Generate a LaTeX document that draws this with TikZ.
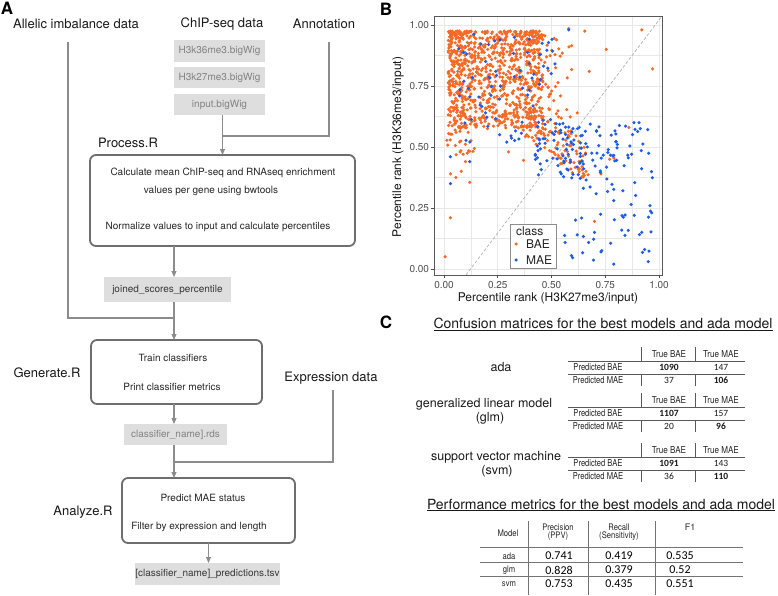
\documentclass[tikz,border=0pt]{standalone}
\usepackage{fontspec}
\setmainfont{TeX Gyre Heros}
\newfontfamily\calib{Carlito}
\usepackage{graphicx}
\usetikzlibrary{arrows.meta}
\definecolor{bae}{RGB}{245,106,38}
\definecolor{mae}{RGB}{32,92,228}
\definecolor{conncol}{RGB}{140,140,140}
\definecolor{boxcol}{RGB}{110,110,110}
\definecolor{filefill}{RGB}{222,222,222}
\definecolor{ltxt}{RGB}{130,130,130}
\definecolor{dtxt}{RGB}{55,55,55}
\definecolor{gridc}{RGB}{232,232,232}
\definecolor{tickc}{RGB}{77,77,77}
\newcommand{\fsz}[1]{\fontsize{#1}{#1}\selectfont}
\newcommand{\cnd}[2]{\scalebox{#1}[1]{#2}}
\newcommand{\conftab}[6]{%
  \node[cth] (#1h1) at (669,#2) {\cnd{0.85}{True BAE}};
  \node[cth] (#1h2) at (721,#2) {\cnd{0.85}{True MAE}};
  \node[cth] (#1r1) at (598,#2+13) {\cnd{0.8}{Predicted BAE}};
  \node[cth] (#1r2) at (598,#2+26) {\cnd{0.8}{Predicted MAE}};
  \node[cnum] (#1a) at (669,#2+13) {\bfseries #3};
  \node[cnum] (#1b) at (721,#2+13) {#4};
  \node[cnum] (#1c) at (669,#2+26) {#5};
  \node[cnum] (#1d) at (721,#2+26) {\bfseries #6};
  \draw[tline] (568,#2+7) -- (745,#2+7);
  \draw[tline] (568,#2+20) -- (745,#2+20);
  \draw[tline] (641,#2-7) -- (641,#2+7);
  \draw[tline] (695,#2-7) -- (695,#2+7);
  \draw[tline] (641,#2+20) -- (641,#2+32);
  \draw[tline] (695,#2+20) -- (695,#2+32);
}
\begin{document}
\begin{tikzpicture}[x=1pt,y=-1pt,
  every node/.style={inner sep=0pt,outer sep=0pt},
  panlab/.style={font=\fsz{17}\bfseries},
  src/.style={font=\fsz{13}, text=black!90},
  btxt/.style={font=\fsz{10}, text=black!85},
  filebox/.style={fill=filefill, font=\fsz{10}},
  procbox/.style={draw=boxcol, line width=1.8pt, rounded corners=6pt},
  conn/.style={draw=conncol, line width=1.1pt},
  arr/.style={conn, -{Triangle[width=5pt,length=6pt]}},
  ticklab/.style={font=\fsz{10}, text=tickc},
  axtitle/.style={font=\fsz{12}, text=black!90},
  cth/.style={font=\fsz{9.5}, text=black!85},
  cnum/.style={font=\calib\fsz{9.5}, text=black!90},
  mlab/.style={font=\fsz{12.5}, text=black!90},
  tline/.style={draw=black!65, line width=0.6pt},
  ptline/.style={draw=black!55, line width=0.7pt},
  phead/.style={font=\fsz{9}, text=black!85, align=center},
  pnum/.style={font=\calib\fsz{12}, text=black}
]
\useasboundingbox (0,0) rectangle (778,595);
\fill[white] (0,0) rectangle (778,595);

% ---------------- Panel A ----------------
\node[panlab] (labA) at (7,8) {A};
\node[src] (allelic) at (76,24) {Allelic imbalance data};
\node[src] (chip) at (222,24) {ChIP-seq data};
\node[src] (annot) at (324,24) {Annotation};
\node[filebox, minimum width=91pt, minimum height=22pt, text=ltxt] (f1) at (219.5,51) {H3k36me3.bigWig};
\node[filebox, minimum width=91pt, minimum height=21pt, text=ltxt] (f2) at (219.5,77.5) {H3k27me3.bigWig};
\node[filebox, minimum width=91pt, minimum height=21pt, text=ltxt] (f3) at (219.5,104.5) {input.bigWig};

\node[src] (procR) at (128,143) {Process.R};
\node[procbox, minimum width=265pt, minimum height=91pt] (proc) at (222.5,200.5) {};
\node[btxt] (p1) at (223,173) {Calculate mean ChIP-seq and RNAseq enrichment};
\node[btxt] (p2) at (211,191) {values per gene using bwtools};
\node[btxt] (p3) at (218,227) {Normalize values to input and calculate percentiles};
\node[filebox, minimum width=127pt, minimum height=25pt, text=dtxt] (joined) at (167.5,289.5) {joined\_scores\_percentile};

\node[src] (genR) at (47,373) {Generate.R};
\node[procbox, minimum width=171pt, minimum height=64pt] (gen) at (176.5,372) {};
\node[btxt] (g1) at (173,358) {Train classifiers};
\node[btxt] (g2) at (172,387) {Print classifier metrics};
\node[src] (expr) at (331,378) {Expression data};
\node[filebox, minimum width=103pt, minimum height=21pt, text=ltxt] (rds) at (175.5,434.5) {classifier\_name].rds};

\node[src] (anaR) at (83,512) {Analyze.R};
\node[procbox, minimum width=173pt, minimum height=65pt] (ana) at (208.5,510.5) {};
\node[btxt] (a1) at (203,498) {Predict MAE status};
\node[btxt] (a2) at (199,527) {Filter by expression and length};
\node[filebox, minimum width=145pt, minimum height=22pt, text=dtxt] (pred) at (207.5,574) {[classifier\_name]\_predictions.tsv};

% connector helper coordinates
\coordinate (aTop) at (68,42);
\coordinate (annTop) at (329,42);
\coordinate (annJ) at (222.5,136);
\coordinate (colA) at (174,0);
\coordinate (jA) at (174,318);
\coordinate (exTop) at (333,390);
\coordinate (jE) at (174,462);

\draw[conn] (aTop) -- (aTop |- jA) -- (jA);
\draw[conn] (annTop) -- (annTop |- annJ) -- (annJ);
\draw[arr] (f3.south -| proc.north) -- (proc.north);
\draw[arr] (proc.south -| colA) -- (joined.north -| colA);
\draw[arr] (joined.south -| colA) -- (gen.north -| colA);
\draw[arr] (gen.south -| colA) -- (rds.north -| colA);
\draw[conn] (exTop) -- (exTop |- jE) -- (jE);
\draw[arr] (rds.south -| colA) -- (ana.north -| colA);
\draw[arr] (ana.south) -- (pred.north -| ana.south);

% ---------------- Panel B ----------------
\node[panlab] (labB) at (386,9) {B};
\begin{scope}[shift={(444,269)}, x=215pt, y=244pt]
  \fill[white] (-0.0465,-0.0246) rectangle (1.014,1.037);
  \foreach \v in {0.125,0.375,0.625,0.875}{
    \draw[gridc, line width=0.5pt] (\v,-0.0246) -- (\v,1.037);
    \draw[gridc, line width=0.5pt] (-0.0465,\v) -- (1.014,\v);
  }
  \foreach \v in {0,0.25,0.5,0.75,1}{
    \draw[gridc, line width=1pt] (\v,-0.0246) -- (\v,1.037);
    \draw[gridc, line width=1pt] (-0.0465,\v) -- (1.014,\v);
  }
  \pgfmathsetseed{4242}
  % orange main cloud (dense core)
  \foreach \i in {1,...,850}{
    \pgfmathsetmacro\px{0.02+0.44*pow(rnd,1.2)}
    \pgfmathsetmacro\py{0.975-0.40*pow(rnd,1.4)}
    \fill[bae] (\px,\py) circle[radius=1.75pt];
  }
  % orange soft right edge
  \foreach \i in {1,...,80}{
    \pgfmathsetmacro\t{rnd}
    \pgfmathsetmacro\px{0.40+0.20*pow(rnd,2)}
    \pgfmathsetmacro\py{0.985-0.40*pow(\t,1.1)-0.25*(\px-0.38)}
    \fill[bae] (\px,\py) circle[radius=1.75pt];
  }
  % orange tail along diagonal
  \foreach \i in {1,...,140}{
    \pgfmathsetmacro\t{rnd}
    \pgfmathsetmacro\px{0.26+0.40*\t+0.06*(rnd-0.5)}
    \pgfmathsetmacro\py{0.68-0.25*\t+0.14*(rnd-0.5)}
    \fill[bae] (\px,\py) circle[radius=1.75pt];
  }
  % orange left low
  \foreach \i in {1,...,30}{
    \pgfmathsetmacro\px{0.01+0.14*rnd}
    \pgfmathsetmacro\py{0.46+0.14*rnd}
    \fill[bae] (\px,\py) circle[radius=1.75pt];
  }
  \foreach \a/\b in {0.005/0.05,0.03/0.21,0.03/0.39,0.055/0.375,0.08/0.40,0.10/0.44,0.12/0.355,0.70/0.195,0.92/0.98,0.97/0.82,0.755/0.90,0.675/0.81,0.655/0.975,0.86/0.58,0.77/0.45,0.73/0.39,0.59/0.41,0.37/0.445,0.30/0.48,0.79/0.455,0.66/0.40,0.55/0.885,0.58/0.985,0.62/0.64}{
    \fill[bae] (\a,\b) circle[radius=1.75pt];
  }
  % blue in cloud
  \foreach \i in {1,...,75}{
    \pgfmathsetmacro\px{0.05+0.47*rnd}
    \pgfmathsetmacro\py{0.52+0.45*rnd}
    \fill[mae] (\px,\py) circle[radius=1.75pt];
  }
  % blue mid band
  \foreach \i in {1,...,60}{
    \pgfmathsetmacro\px{0.42+0.24*rnd}
    \pgfmathsetmacro\py{0.37+0.24*rnd}
    \fill[mae] (\px,\py) circle[radius=1.75pt];
  }
  % blue lower right
  \foreach \i in {1,...,110}{
    \pgfmathsetmacro\px{0.55+0.42*rnd}
    \pgfmathsetmacro\py{0.60-0.57*pow(rnd,1.4)}
    \fill[mae] (\px,\py) circle[radius=1.75pt];
  }
  \foreach \a/\b in {0.03/0.35,0.03/0.46,0.12/0.44,0.58/0.98,0.79/0.02,0.95/0.03,0.73/0.07,0.62/0.14,0.70/0.15,0.92/0.15}{
    \fill[mae] (\a,\b) circle[radius=1.75pt];
  }
  \draw[black!30, line width=0.7pt, dash pattern=on 3pt off 2pt] (0.102,-0.0246) -- (1.014,1.037);
  \draw[black!65, line width=0.8pt] (-0.0465,-0.0246) rectangle (1.014,1.037);
\end{scope}
\foreach \v/\t in {0/0.00,0.25/0.25,0.5/0.50,0.75/0.75,1/1.00}{
  \draw[tickc, line width=0.6pt] ({434-3},{269-244*\v}) -- (434,{269-244*\v});
  \node[ticklab, anchor=east] (yt\t) at (429,{269-244*\v}) {\t};
  \draw[tickc, line width=0.6pt] ({444+215*\v},275) -- ({444+215*\v},278);
  \node[ticklab] (xt\t) at ({444+215*\v},285) {\t};
}
\node[axtitle] (xtitle) at (548,298) {Percentile rank (H3K27me3/input)};
\node[axtitle, rotate=90] (ytitle) at (398,147) {Percentile rank (H3K36me3/input)};
% legend
\draw[black!45, fill=white, line width=0.7pt] (510,224) rectangle (556,268);
\node[font=\fsz{12}, anchor=west, text=black!85] (legT) at (516,231) {class};
\fill[bae] (516,244) circle[radius=1.75pt];
\node[font=\fsz{12}, anchor=west, text=black!85] (legB) at (526,244) {BAE};
\fill[mae] (516,260) circle[radius=1.75pt];
\node[font=\fsz{12}, anchor=west, text=black!85] (legM) at (526,260) {MAE};

% ---------------- Panel C ----------------
\node[panlab] (labC) at (386,322) {C};
\node[font=\fsz{14}, text=black!90] (ct1) at (603,324) {\underline{Confusion matrices for the best models and ada model}};
\node[mlab] (mada) at (501,367) {ada};
\node[mlab] (mglm1) at (484,404) {generalized linear model};
\node[mlab] (mglm2) at (490,418) {(glm)};
\node[mlab] (msvm1) at (496,457) {support vector machine};
\node[mlab] (msvm2) at (497,471) {(svm)};
\conftab{ada}{354}{1090}{147}{37}{106}
\conftab{glm}{400}{1107}{157}{20}{96}
\conftab{svm}{450}{1091}{143}{36}{110}

\node[font=\fsz{14}, text=black!90] (ct2) at (601,505) {\underline{Performance metrics for the best models and ada model}};
\node[phead] (hm) at (508,533) {\cnd{0.85}{Model}};
\node[phead] (hp) at (558,532) {\cnd{0.85}{Precision}\\[-1pt]\cnd{0.85}{(PPV)}};
\node[phead] (hr) at (619,532) {\cnd{0.85}{Recall}\\[-1pt]\cnd{0.85}{(Sensitivity)}};
\node[phead] (hf) at (690,527) {F1};
\foreach \m/\y/\p/\r/\f in {ada/556/0.741/0.419/0.535, glm/570/0.828/0.379/0.52, svm/584/0.753/0.435/0.551}{
  \node[phead] (pm\m) at (509,\y) {\cnd{0.85}{\m}};
  \node[pnum] (pp\m) at (559,\y) {\p};
  \node[pnum] (pr\m) at (619,\y) {\r};
  \node[pnum] (pf\m) at (680,\y) {\f};
}
\draw[ptline] (528,521) -- (528,595);
\draw[ptline] (588,521) -- (588,595);
\draw[ptline] (655,521) -- (655,595);
\draw[ptline] (480,547) -- (743,547);
\draw[ptline] (480,562) -- (743,562);
\draw[ptline] (480,576) -- (743,576);
\end{tikzpicture}
\end{document}
